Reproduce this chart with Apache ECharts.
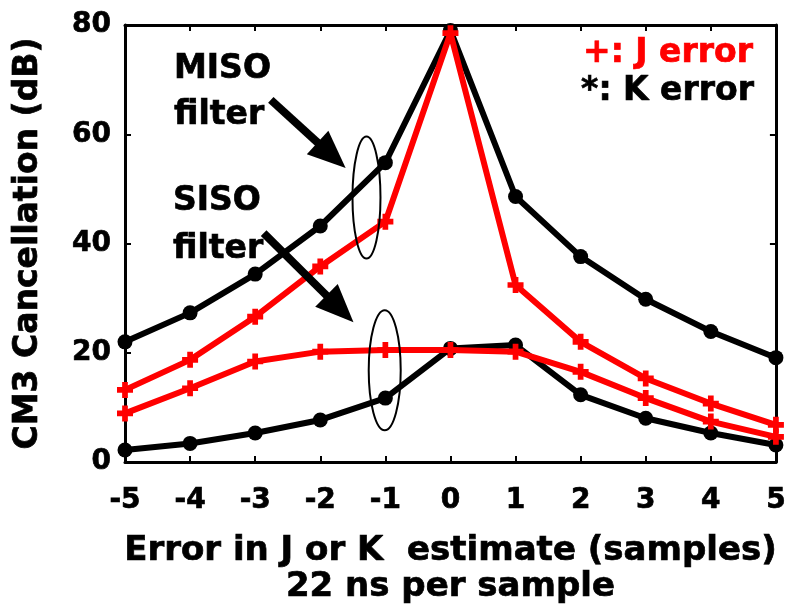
<!DOCTYPE html>
<html>
<head>
<meta charset="utf-8">
<script src="https://cdn.jsdelivr.net/npm/echarts@6/dist/echarts.min.js"></script>
<style>
  html, body { margin: 0; padding: 0; background: #fff; }
  #chart { width: 789px; height: 615px; }
</style>
</head>
<body>
<div id="chart"></div>
<script>
// Timing error (samples) on the horizontal axis
const xValues = [-5, -4, -3, -2, -1, 0, 1, 2, 3, 4, 5];

// CM3 cancellation (dB) for each filter and error type
const misoKError = [22.0, 27.3, 34.4, 43.2, 54.8, 79.0, 48.6, 37.6, 29.8, 23.9, 19.1];
const misoJError = [13.2, 18.7, 26.6, 35.8, 44.0, 78.5, 32.4, 22.0, 15.3, 10.7, 6.8];
const sisoJError = [8.9, 13.5, 18.4, 20.2, 20.5, 20.5, 20.2, 16.5, 11.7, 7.4, 4.6];
const sisoKError = [2.2, 3.4, 5.3, 7.7, 11.7, 20.8, 21.4, 12.3, 8.0, 5.3, 3.1];

const yMin = 0, yMax = 80, yStep = 20;
const xMin = -5, xMax = 5, xStep = 1;

const FONT = '"DejaVu Sans", "Liberation Sans", Arial, sans-serif';
const RED = '#ff0000';
const BLACK = '#000000';
const PLUS = 'path://M4.5,0h5v4.5h4.5v5h-4.5v4.5h-5v-4.5h-4.5v-5h4.5z';

const pairs = ys => xValues.map((x, i) => [x, ys[i]]);

const chart = echarts.init(document.getElementById('chart'), null, { renderer: 'canvas' });

function blackSeries(name, ys) {
  return {
    name, type: 'line', data: pairs(ys),
    symbol: 'circle', symbolSize: 15,
    lineStyle: { color: BLACK, width: 6 },
    itemStyle: { color: BLACK },
    z: 2, animation: false
  };
}
function redSeries(name, ys) {
  return {
    name, type: 'line', data: pairs(ys),
    symbol: PLUS, symbolSize: 16,
    lineStyle: { color: RED, width: 6 },
    itemStyle: { color: RED },
    z: 3, animation: false
  };
}

const frameAxis = {
  axisLine: { show: true, onZero: false, lineStyle: { color: BLACK, width: 3 } },
  axisTick: { show: true, inside: true, length: 6, lineStyle: { color: BLACK, width: 2 } },
  splitLine: { show: false }
};

const heavy = { textBorderColor: BLACK, textBorderWidth: 0.7 };

chart.setOption({
  backgroundColor: '#fff',
  animation: false,
  grid: { left: 125, right: 12, top: 25, bottom: 153, containLabel: false },
  xAxis: [
    Object.assign({
      type: 'value', min: xMin, max: xMax, interval: xStep, position: 'bottom',
      axisLabel: Object.assign({ fontFamily: FONT, fontWeight: 'bold', fontSize: 28, color: BLACK, margin: 25 }, heavy),
      name: 'Error in J or K  estimate (samples)\n22 ns per sample',
      nameLocation: 'middle', nameGap: 71,
      nameTextStyle: Object.assign({ fontFamily: FONT, fontWeight: 'bold', fontSize: 34, color: BLACK, lineHeight: 36 }, heavy)
    }, frameAxis),
    Object.assign({
      type: 'value', min: xMin, max: xMax, interval: xStep, position: 'top',
      axisLabel: { show: false }
    }, frameAxis)
  ],
  yAxis: [
    Object.assign({
      type: 'value', min: yMin, max: yMax, interval: yStep, position: 'left',
      axisLabel: Object.assign({ fontFamily: FONT, fontWeight: 'bold', fontSize: 28, color: BLACK, margin: 14 }, heavy),
      name: 'CM3 Cancellation (dB)',
      nameLocation: 'middle', nameGap: 80, nameRotate: 90,
      nameTextStyle: Object.assign({ fontFamily: FONT, fontWeight: 'bold', fontSize: 33, color: BLACK }, heavy)
    }, frameAxis),
    Object.assign({
      type: 'value', min: yMin, max: yMax, interval: yStep, position: 'right',
      axisLabel: { show: false }
    }, frameAxis)
  ],
  series: [
    blackSeries('MISO K error', misoKError),
    blackSeries('SISO K error', sisoKError),
    redSeries('MISO J error', misoJError),
    redSeries('SISO J error', sisoJError)
  ]
});

// Annotations: ellipses around the x = -1 points and arrows from the filter labels
const annotations = {
  ellipses: [
    { center: [-1.29, 48.4], rx: 14, ry: 61 },
    { center: [-1.01, 16.8], rx: 16, ry: 60 }
  ],
  arrows: [
    { from: [-2.76, 66.3], to: [-1.61, 53.8] },
    { from: [-2.87, 41.9], to: [-1.49, 25.6] }
  ]
};

function toPx(p) { return chart.convertToPixel({ xAxisIndex: 0, yAxisIndex: 0 }, p); }

const graphics = [];
annotations.ellipses.forEach(e => {
  const c = toPx(e.center);
  graphics.push({
    type: 'ellipse', z: 10,
    shape: { cx: c[0], cy: c[1], rx: e.rx, ry: e.ry },
    style: { fill: 'none', stroke: BLACK, lineWidth: 2 }
  });
});
annotations.arrows.forEach(a => {
  const p0 = toPx(a.from), p1 = toPx(a.to);
  const dx = p1[0] - p0[0], dy = p1[1] - p0[1];
  const len = Math.hypot(dx, dy);
  const ux = dx / len, uy = dy / len;
  const headLen = 38, headHalf = 16;
  const bx = p1[0] - ux * headLen, by = p1[1] - uy * headLen;
  graphics.push({
    type: 'line', z: 10,
    shape: { x1: p0[0], y1: p0[1], x2: bx + ux * 4, y2: by + uy * 4 },
    style: { stroke: BLACK, lineWidth: 8 }
  });
  graphics.push({
    type: 'polygon', z: 10,
    shape: { points: [p1, [bx - uy * headHalf, by + ux * headHalf], [bx + uy * headHalf, by - ux * headHalf]] },
    style: { fill: BLACK }
  });
});

const labelFont = 'bold 33px ' + FONT;
const legendFont = 'bold 33px ' + FONT;
graphics.push(
  { type: 'text', z: 11, x: 174, y: 46, style: { text: 'MISO\nfilter', font: labelFont, fill: BLACK, stroke: BLACK, lineWidth: 0.7, lineHeight: 46, verticalAlign: 'top' } },
  { type: 'text', z: 11, x: 173, y: 177, style: { text: 'SISO\nfilter', font: labelFont, fill: BLACK, stroke: BLACK, lineWidth: 0.7, lineHeight: 48, verticalAlign: 'top' } },
  { type: 'text', z: 11, x: 753, y: 37, style: { text: '+: J error', font: legendFont, fill: RED, stroke: RED, lineWidth: 0.7, align: 'right', verticalAlign: 'top' } },
  { type: 'text', z: 11, x: 754, y: 75, style: { text: '*: K error', font: legendFont, fill: BLACK, stroke: BLACK, lineWidth: 0.7, align: 'right', verticalAlign: 'top' } }
);

chart.setOption({ graphic: graphics });
</script>
</body>
</html>
